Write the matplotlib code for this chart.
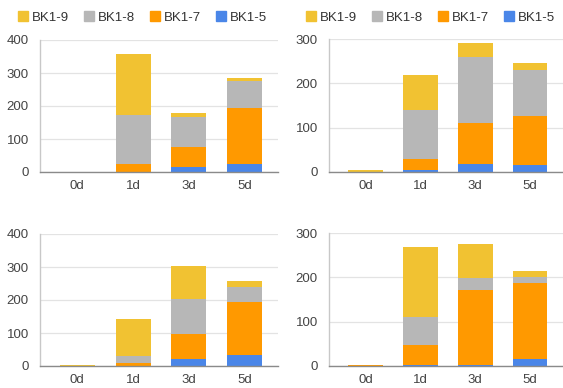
import matplotlib
matplotlib.use("Agg")
import matplotlib.pyplot as plt
import numpy as np

plt.rcParams["font.family"] = ["Liberation Sans", "DejaVu Sans"]

categories = ["0d", "1d", "3d", "5d"]
series_names = ["BK1-9", "BK1-8", "BK1-7", "BK1-5"]
colors = {"BK1-9": "#F1C232", "BK1-8": "#B7B7B7", "BK1-7": "#FF9900", "BK1-5": "#4A86E8"}

# segment values (bottom to top: BK1-5, BK1-7, BK1-8, BK1-9)
tl_bk15 = [0, 1, 15, 25]
tl_bk17 = [0, 22, 60, 169]
tl_bk18 = [0, 151, 93, 83]
tl_bk19 = [1, 184, 12, 7]

tr_bk15 = [0, 4, 17, 16]
tr_bk17 = [0, 25, 93, 111]
tr_bk18 = [0, 111, 149, 103]
tr_bk19 = [5, 78, 31, 16]

bl_bk15 = [0, 0, 22, 33]
bl_bk17 = [0, 10, 76, 162]
bl_bk18 = [0, 19, 106, 45]
bl_bk19 = [2, 112, 100, 19]

br_bk15 = [0, 2, 2, 16]
br_bk17 = [3, 45, 170, 172]
br_bk18 = [0, 63, 27, 12]
br_bk19 = [0, 158, 77, 14]

panels = [
    dict(data=[tl_bk15, tl_bk17, tl_bk18, tl_bk19], ymax=400, rect=(40, 40, 278, 172), legend=(143, 18)),
    dict(data=[tr_bk15, tr_bk17, tr_bk18, tr_bk19], ymax=300, rect=(329, 39, 563, 172), legend=(431, 18)),
    dict(data=[bl_bk15, bl_bk17, bl_bk18, bl_bk19], ymax=400, rect=(40, 234, 278, 366), legend=None),
    dict(data=[br_bk15, br_bk17, br_bk18, br_bk19], ymax=300, rect=(329, 233, 563, 366), legend=None),
]

W, H = 563, 388
fig = plt.figure(figsize=(W / 100, H / 100), dpi=100)
fig.patch.set_facecolor("white")

stack_order = ["BK1-5", "BK1-7", "BK1-8", "BK1-9"]
x = np.arange(len(categories))

for p in panels:
    l, t, r, b = p["rect"]
    ax = fig.add_axes([l / W, 1 - b / H, (r - l) / W, (b - t) / H])
    bottom = np.zeros(len(categories))
    for name, vals in zip(stack_order, p["data"]):
        vals = np.array(vals, dtype=float)
        ax.bar(x, vals, bottom=bottom, width=0.63, color=colors[name], zorder=3, linewidth=0)
        bottom += vals
    ax.set_xlim(-0.67, 3.6)
    ax.set_ylim(0, p["ymax"])
    ax.set_yticks(np.arange(0, p["ymax"] + 1, 100))
    ax.set_xticks(x)
    ax.set_xticklabels(categories)
    ax.grid(axis="y", color="#E3E3E3", linewidth=0.9, zorder=0)
    ax.set_axisbelow(True)
    for s in ["top", "right"]:
        ax.spines[s].set_visible(False)
    ax.spines["left"].set_color("#C8C8C8")
    ax.spines["left"].set_linewidth(1.0)
    ax.spines["bottom"].set_color("#8A8A8A")
    ax.spines["bottom"].set_linewidth(1.0)
    ax.spines["bottom"].set_zorder(4)
    ax.tick_params(axis="both", length=0, labelsize=9.5, colors="#444444")
    ax.tick_params(axis="x", pad=6)
    ax.tick_params(axis="y", pad=8)
    if p["legend"]:
        cx, cy = p["legend"]
        hs = [plt.Line2D([], [], marker="s", linestyle="none", markersize=6.5,
                         color=colors[n]) for n in series_names]
        ax.legend(hs, series_names, ncol=4, loc="center", bbox_to_anchor=(cx / W, 1 - cy / H),
                  bbox_transform=fig.transFigure,
                  frameon=False, fontsize=9.5, handlelength=0.6, handletextpad=0.35,
                  columnspacing=1.25, labelcolor="#333333", borderaxespad=0, borderpad=0)

fig.savefig("out.png", dpi=100, facecolor="white")
